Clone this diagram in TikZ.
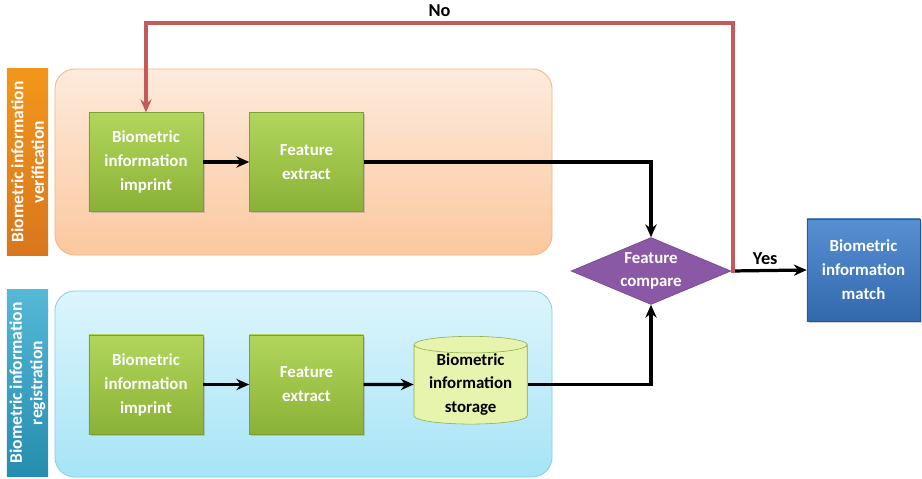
\documentclass[tikz,border=0pt]{standalone}
\usepackage{fontspec}
\setmainfont{Carlito}
\usetikzlibrary{arrows.meta, positioning, shapes.geometric, shadows}
\definecolor{corange}{HTML}{F08420}
\definecolor{cpeachtop}{HTML}{FDEBDD}
\definecolor{cpeachbot}{HTML}{FBC89E}
\definecolor{cpeachline}{HTML}{F8B47F}
\definecolor{ccyan}{HTML}{2BA6CD}
\definecolor{cskytop}{HTML}{DDF5FC}
\definecolor{cskybot}{HTML}{A6E4F6}
\definecolor{cskyline}{HTML}{86CFE8}
\definecolor{cgreentop}{HTML}{B2D65C}
\definecolor{cgreenbot}{HTML}{8AB137}
\definecolor{cstore}{HTML}{E6F4AE}
\definecolor{cpurple}{HTML}{8B58A5}
\definecolor{cblue}{HTML}{3B7BCB}
\definecolor{cno}{HTML}{C55A5A}

\begin{document}
\begin{tikzpicture}[
  x=0.025cm, y=-0.025cm,
  font=\fontsize{12}{17}\selectfont\bfseries,
  >={Stealth[length=3.2mm, width=2.8mm]},
  node distance=1.15cm,
  sidebar/.style={rotate=90, minimum width=4.65cm, minimum height=1.025cm,
                  align=center, text=white, inner sep=1pt,
                  font=\fontsize{12.5}{14.5}\selectfont\bfseries},
  panel/.style={rounded corners=0.5cm, minimum width=12.425cm,
                minimum height=4.65cm, line width=0.6pt},
  stepbox/.style={align=center, text=white, minimum width=2.85cm,
                  minimum height=2.475cm, top color=cgreentop,
                  bottom color=cgreenbot, draw=cgreenbot!90!black,
                  line width=0.3pt,
                  drop shadow={opacity=0.35, shadow xshift=1.2pt,
                               shadow yshift=-1.2pt}},
  store/.style={cylinder, shape border rotate=90, aspect=0.2,
                minimum width=2.83cm, minimum height=1.9cm, inner sep=0pt,
                fill=cstore, draw=cgreentop!80!black, line width=0.4pt,
                align=center},
  decide/.style={diamond, fill=cpurple, draw=cpurple!80!black,
                 minimum width=4cm, minimum height=1.675cm, inner sep=-6pt,
                 align=center, text=white,
                 font=\fontsize{12}{16}\selectfont\bfseries},
  result/.style={align=center, text=white, minimum width=2.83cm,
                 minimum height=2.55cm, top color=cblue!85!white,
                 bottom color=cblue!85!black, draw=cblue!70!black,
                 line width=0.3pt,
                 drop shadow={opacity=0.35, shadow xshift=1.2pt,
                              shadow yshift=-1.2pt}},
  arr/.style={->, line width=2.3pt, draw=black},
  back/.style={->, line width=2.2pt, draw=cno},
  tag/.style={font=\fontsize{13}{15}\selectfont\bfseries},
  ]
\useasboundingbox (0,0) rectangle (922,479);

% side labels and panels
\node[sidebar, top color=corange!85!yellow, bottom color=corange!90!black]
  (vbar) at (27.5,162) {Biometric information\\verification};
\node[sidebar, top color=ccyan!80!white, bottom color=ccyan!85!black]
  (rbar) at (27.5,383) {Biometric information\\registration};
\node[panel, top color=cpeachtop, bottom color=cpeachbot, draw=cpeachline]
  (vpanel) at (303.5,162) {};
\node[panel, top color=cskytop, bottom color=cskybot, draw=cskyline]
  (rpanel) at (303.5,384) {};

% verification row
\node[stepbox] (vprint) at (146,162) {Biometric\\information\\imprint};
\node[stepbox, right=of vprint] (vext) {Feature\\extract};

% registration row
\node[stepbox] (rprint) at (146,384.5) {Biometric\\information\\imprint};
\node[stepbox, right=of rprint] (rext) {Feature\\extract};
\node[store, right=1.25cm of rext] (db) {Biometric\\information\\storage};

% decision and result
\node[decide] (cmp) at (651,271) {Feature\\compare};
\node[result] (match) at (863.5,270) {Biometric\\information\\match};
\coordinate (noturn) at (733,23);

\draw[arr] (vprint) -- (vext);
\draw[arr] (rprint) -- (rext);
\draw[arr] (rext) -- (db);
\draw[arr] (vext.east) -| (cmp.north);
\draw[arr] (db.east) -| (cmp.south);
\draw[arr] (cmp.east) -- node[above, tag, pos=0.45] {Yes} (match.west);
\draw[back] (cmp.east) -- (cmp.east -| noturn) -- (noturn)
  -| node[pos=0.25, above, tag] {No} (vprint.north);
\end{tikzpicture}
\end{document}
